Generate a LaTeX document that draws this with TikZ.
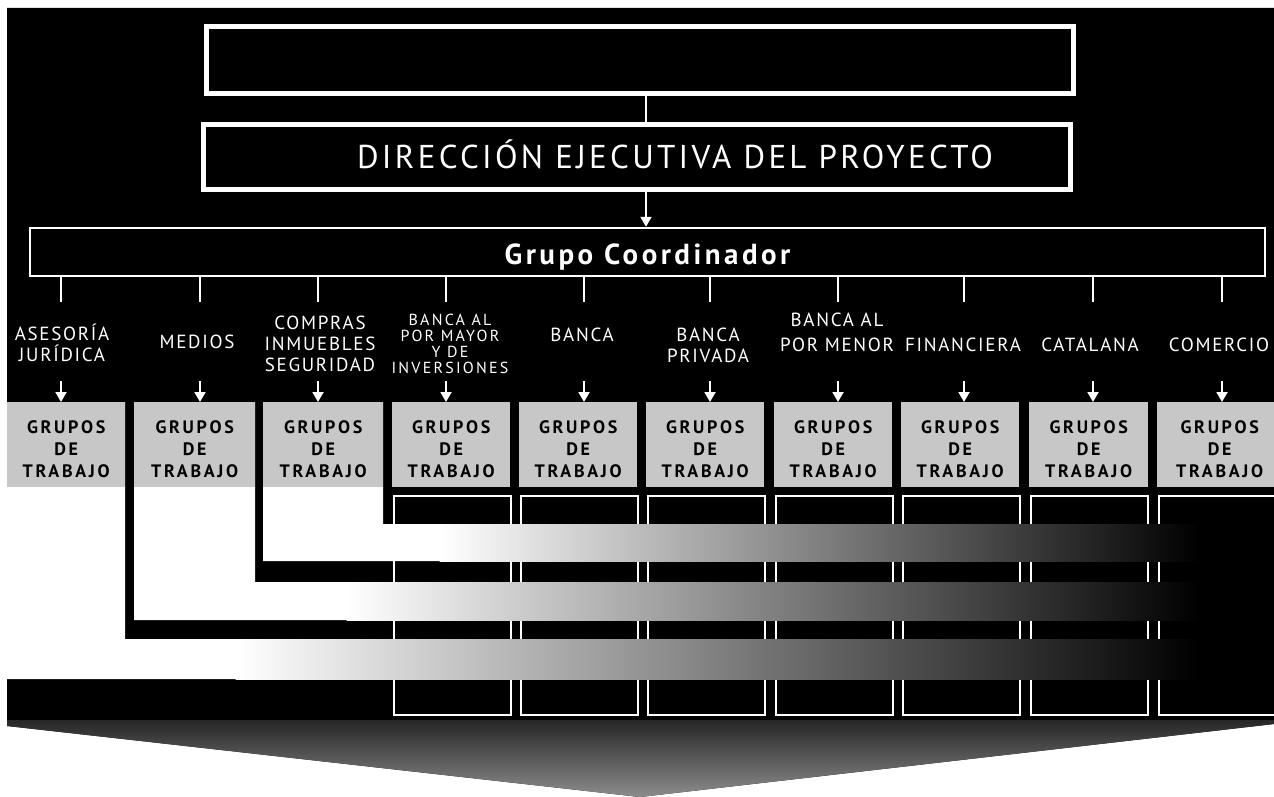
\documentclass[tikz,border=0pt]{standalone}
\usepackage{fontspec}
\setmainfont{PT Sans}
\newfontfamily\lblfont[LetterSpace=9]{PT Sans}
\newfontfamily\lblwidefont[LetterSpace=14]{PT Sans}
\newfontfamily\grpfont[LetterSpace=15]{PT Sans}
\newfontfamily\titlefont[LetterSpace=10]{PT Sans}
\newfontfamily\coordfont[LetterSpace=12]{PT Sans}
\usetikzlibrary{arrows.meta}
\begin{document}
\begin{tikzpicture}[x=1pt,y=-1pt,
  wline/.style={white, line width=2pt},
  warrow/.style={white, line width=2pt, -{Triangle[width=11pt,length=10pt]}},
  lbl/.style={text=white, font=\lblfont\fontsize{19}{21}\selectfont, align=center, inner sep=0pt},
  grupos/.style={fill=black!22, draw=none, minimum height=85pt, inner sep=0pt, anchor=north west,
    font=\grpfont\bfseries\fontsize{18}{22}\selectfont, align=center, text=black},
  tallbox/.style={draw=white, line width=2pt, fill=black, minimum width=117pt, minimum height=219pt, anchor=north west, inner sep=0pt},
  bigbox/.style={draw=white, line width=5pt, fill=black, minimum width=867pt, inner sep=0pt},
  band/.style={left color=white, middle color=black!50, right color=black}
]
\useasboundingbox (0,0) rectangle (1274,797);
% background
\fill[black] (7,8) -- (1274,8) -- (1274,724) -- (640,797) -- (7,726) -- cycle;
\shade[top color=black!85, bottom color=black!45] (7,720) -- (1274,720) -- (1274,724) -- (640,797) -- (7,726) -- cycle;
% tall outlined boxes
\foreach \i/\l in {4/393,5/520,6/647,7/775,8/902,9/1030,10/1158}
  \node[tallbox] (b\i) at (\l,495) {};
% white L regions
\fill[white] (7,402) -- (125,402) -- (125,639) -- (236,639) -- (236,679) -- (7,679) -- cycle;
\fill[white] (134,402) -- (255,402) -- (255,582) -- (347,582) -- (347,620) -- (134,620) -- cycle;
\fill[white] (263,402) -- (383,402) -- (383,524) -- (440,524) -- (440,561) -- (263,561) -- cycle;
% gradient arms
\shade[band] (235.5,639) rectangle (1200,679);
\shade[band] (346.5,582) rectangle (1200,620);
\shade[band] (439.5,524) rectangle (1200,561);
% grupos de trabajo boxes
\foreach \i/\l/\w in {1/7/118,2/134/121,3/263/120,4/392/118,5/519/118,6/646/118,7/774/118,8/901/118,9/1029/119,10/1157/125}
  \node[grupos, minimum width=\w pt] (g\i) at (\l,402) {\rule{0pt}{22pt}GRUPOS\\DE\\TRABAJO};
% top boxes
\node[bigbox, minimum height=67pt] (top) at (640,60) {};
\node[bigbox, minimum height=65pt, text=white, font=\titlefont\fontsize{33}{38}\selectfont,
  text height=25pt, text depth=2pt] (dir) at (637,157)
  {\hspace*{76pt}DIRECCIÓN EJECUTIVA DEL PROYECTO};
\node[draw=white, line width=2.5pt, fill=black, minimum width=1235pt, minimum height=48pt, inner sep=0pt,
  text=white, font=\coordfont\bfseries\fontsize{29}{33}\selectfont, text height=31pt, text depth=6pt]
  (coord) at (647.5,252) {Grupo Coordinador};
\draw[wline] ([xshift=6pt]top.south) -- ([xshift=9pt]dir.north);
\draw[warrow] ([xshift=9pt]dir.south) -- ([xshift=-1.5pt]coord.north);
% labels
\node[lbl] (l1) at (62,343) {ASESORÍA\\JURÍDICA};
\node[lbl] (l2) at (197,342) {MEDIOS};
\node[lbl] (l3) at (320,343.5) {COMPRAS\\INMUEBLES\\SEGURIDAD};
\node[lbl, font=\lblwidefont\fontsize{16}{16}\selectfont] (l4) at (450,344)
  {BANCA AL\\POR MAYOR\\Y DE\\INVERSIONES};
\node[lbl] (l5) at (582,334.5) {BANCA};
\node[lbl] (l6) at (708,345.5) {BANCA\\PRIVADA};
\node[lbl] (l7) at (837,332.5) {BANCA AL\\[4pt]POR MENOR};
\node[lbl] (l8) at (963,345) {FINANCIERA};
\node[lbl] (l9) at (1090,345) {CATALANA};
\node[lbl] (l10) at (1219,345) {COMERCIO};
% connectors
\foreach \i/\x in {1/61,2/200,3/318,4/446,5/584,6/710,7/838,8/964,9/1093,10/1222} {
  \coordinate (t\i) at (\x,302);
  \draw[wline] (coord.south -| t\i) -- (t\i);
  \coordinate (a\i) at (\x,381);
  \draw[warrow] (a\i) -- (a\i |- g\i.north);
}
\end{tikzpicture}
\end{document}
